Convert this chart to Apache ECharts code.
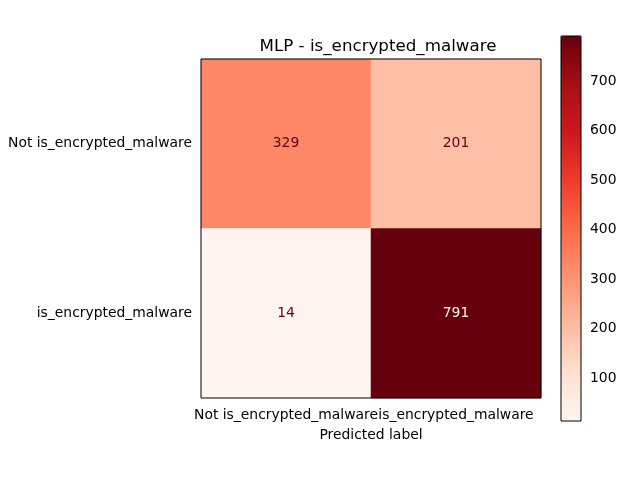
<!DOCTYPE html>
<html><head><meta charset="utf-8">
<script src="https://cdn.jsdelivr.net/npm/echarts@6/dist/echarts.min.js"></script>
<style>html,body{margin:0;padding:0;background:#fff}#c{width:640px;height:480px}</style>
</head><body><div id="c"></div>
<script>
const titleText = "MLP - is_encrypted_malware";
const predictedLabels = ["Not is_encrypted_malware", "is_encrypted_malware"];
const trueLabels = ["Not is_encrypted_malware", "is_encrypted_malware"];
const row0 = [329, 201];
const row1 = [14, 791];
const colorbarTicks = [100, 200, 300, 400, 500, 600, 700];
const xAxisName = "Predicted label";

const rows = [row0, row1];
const data = [];
rows.forEach((r, yi) => r.forEach((v, xi) => data.push([xi, yi, v])));
const allVals = rows.flat();
const vmin = Math.min(...allVals), vmax = Math.max(...allVals);
const thresh = (vmin + vmax) / 2;
const reds = ['#fff5f0','#fee0d2','#fcbba1','#fc9272','#fb6a4a','#ef3b2c','#cb181d','#a50f15','#67000d'];
const font = 'DejaVu Sans';
const fs = 13.9;

const chart = echarts.init(document.getElementById('c'), null, {renderer: 'canvas'});
chart.setOption({
  animation: false,
  backgroundColor: '#fff',
  textStyle: {fontFamily: font},
  title: {
    text: titleText, left: 373, top: 33, textAlign: 'center',
    textStyle: {fontFamily: font, fontSize: 16.7, fontWeight: 'normal', color: '#000'}
  },
  grid: [
    {left: 201, top: 59, width: 340, height: 339, show: true, borderColor: '#000', borderWidth: 1, backgroundColor: 'transparent', z: 5},
    {left: 561, top: 36, width: 20, height: 385, show: true, borderColor: '#000', borderWidth: 1, backgroundColor: 'transparent', z: 10}
  ],
  xAxis: [
    {type: 'category', gridIndex: 0, data: predictedLabels,
     name: xAxisName, nameLocation: 'middle', nameGap: 30,
     nameTextStyle: {fontFamily: font, fontSize: fs, color: '#000'},
     axisLine: {show: false}, axisTick: {alignWithLabel: true, length: 5, lineStyle: {color: '#000'}},
     axisLabel: {fontFamily: font, fontSize: fs, color: '#000', margin: 10, interval: 0},
     splitLine: {show: false}},
    {type: 'value', gridIndex: 1, show: false}
  ],
  yAxis: [
    {type: 'category', gridIndex: 0, data: trueLabels, inverse: true,
     axisLine: {show: false}, axisTick: {alignWithLabel: true, length: 5, lineStyle: {color: '#000'}},
     axisLabel: {fontFamily: font, fontSize: fs, color: '#000', margin: 9, padding: [2, 0, 0, 0]},
     splitLine: {show: false}},
    {type: 'value', gridIndex: 1, min: vmin, max: vmax, position: 'right',
     axisLine: {show: false},
     axisTick: {show: true, length: 5, customValues: colorbarTicks, lineStyle: {color: '#000'}},
     axisLabel: {fontFamily: font, fontSize: fs, color: '#000', margin: 9, customValues: colorbarTicks},
     splitLine: {show: false}}
  ],
  visualMap: {
    type: 'continuous', min: vmin, max: vmax, seriesIndex: 0,
    left: 561, top: 36, itemWidth: 20, itemHeight: 385, padding: 0,
    calculable: false, showLabel: false, text: null, hoverLink: false,
    inRange: {color: reds}
  },
  series: [{
    type: 'heatmap', xAxisIndex: 0, yAxisIndex: 0,
    data: data.map(d => ({value: d, label: {color: d[2] > thresh ? '#fff5f0' : '#67000d'}})),
    label: {
      show: true, fontFamily: font, fontSize: fs, padding: [2, 0, 0, 0],
      formatter: p => String(p.value[2])
    },
    emphasis: {disabled: true}
  }]
});
</script></body></html>
